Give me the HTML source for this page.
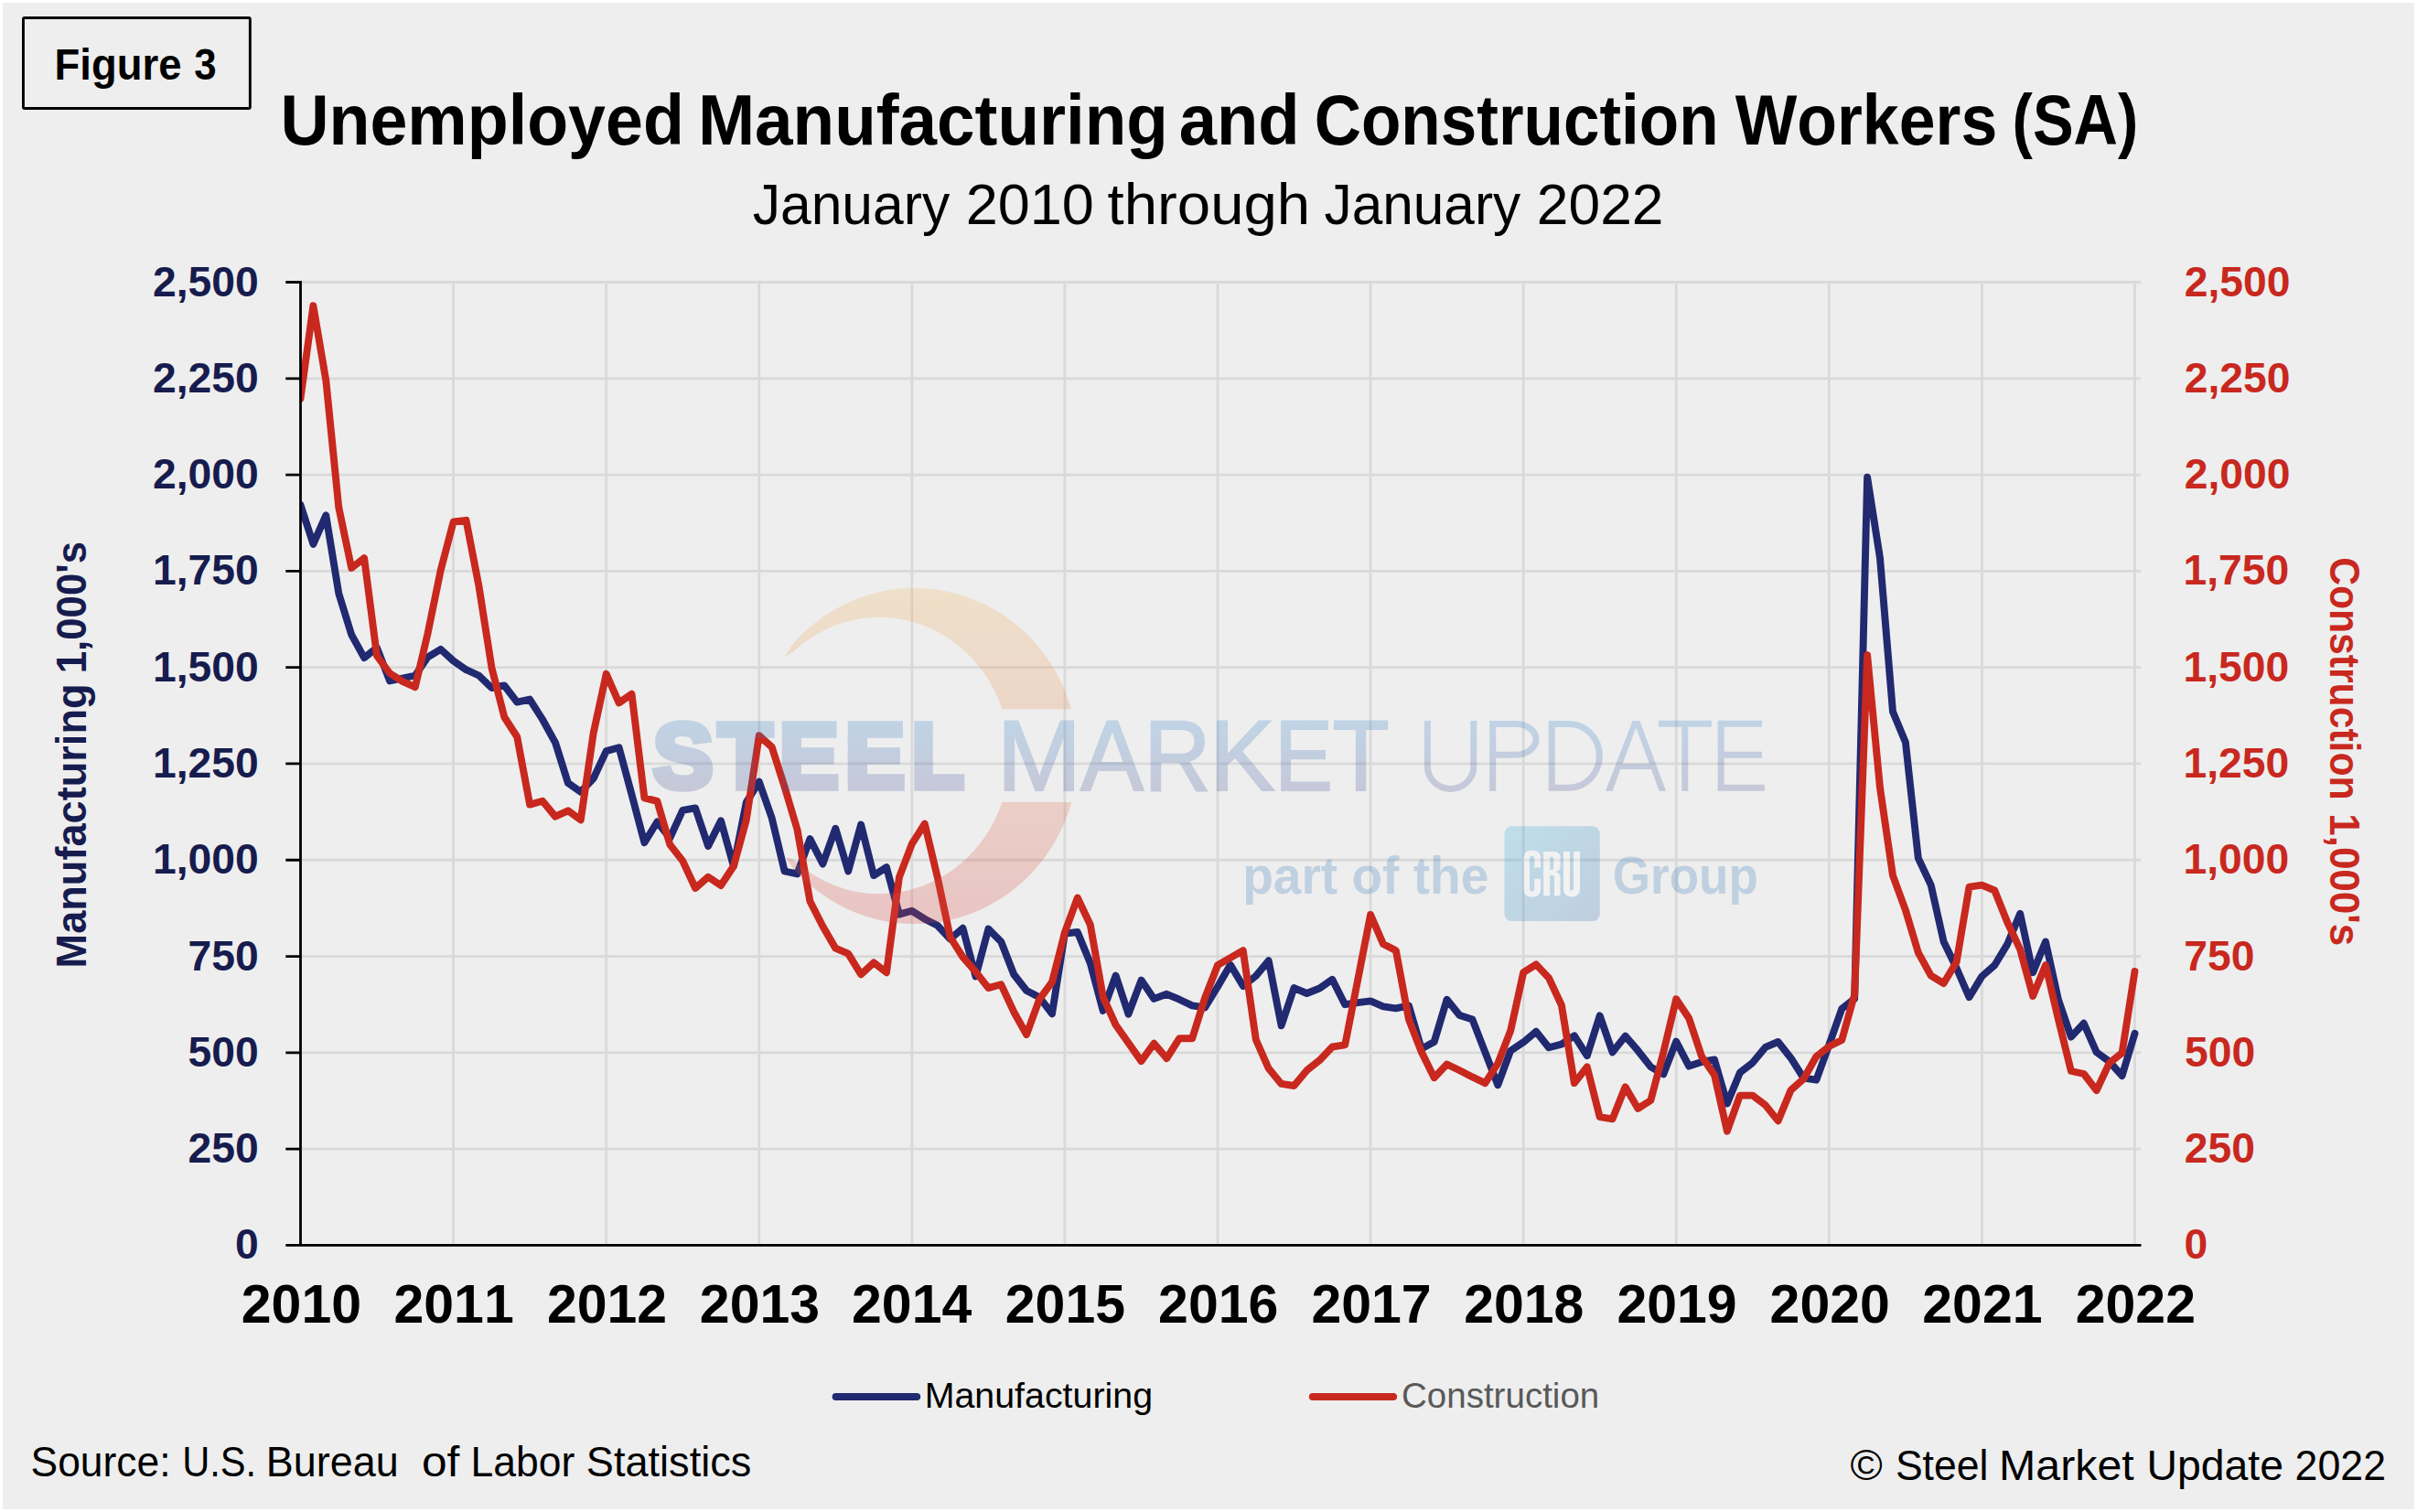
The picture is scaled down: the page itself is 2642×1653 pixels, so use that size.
<!DOCTYPE html>
<html><head><meta charset="utf-8"><title>Unemployed Manufacturing and Construction Workers</title>
<style>
html,body{margin:0;padding:0;background:#fff;overflow:hidden}
svg{display:block}
text{font-family:"Liberation Sans",sans-serif;font-kerning:none;font-variant-ligatures:none;white-space:pre}
.b{font-weight:bold}
</style></head><body>
<svg width="2642" height="1653" viewBox="0 0 2642 1653">
<defs>
<linearGradient id="gTxt" x1="0" y1="786" x2="0" y2="866" gradientUnits="userSpaceOnUse"><stop offset="0" stop-color="#3385C9"/><stop offset="1" stop-color="#4D5598"/></linearGradient>
<linearGradient id="gTxtL" x1="0" y1="-76" x2="0" y2="3" gradientUnits="userSpaceOnUse"><stop offset="0" stop-color="#3385C9"/><stop offset="1" stop-color="#4D5598"/></linearGradient>
<linearGradient id="gCres" x1="0" y1="642" x2="0" y2="1010" gradientUnits="userSpaceOnUse"><stop offset="0" stop-color="#EEB65C"/><stop offset="1" stop-color="#D84646"/></linearGradient>
<linearGradient id="gCru" x1="1645" y1="904" x2="1748" y2="1007" gradientUnits="userSpaceOnUse"><stop offset="0" stop-color="#30ABDF"/><stop offset="1" stop-color="#306FAF"/></linearGradient>
<clipPath id="plot"><rect x="328.5" y="290" width="2020" height="1080"/></clipPath>
<clipPath id="cband"><path d="M700,600H1300V775.2H700Z M700,877H1300V1100H700Z"/></clipPath>
</defs>
<rect x="0" y="0" width="2642" height="1653" fill="#FFFFFF"/>
<rect x="3" y="3" width="2636" height="1647" fill="#EEEEEE"/>
<rect x="25.45" y="19.45" width="247.9" height="99" rx="1.5" fill="none" stroke="#000" stroke-width="2.9"/>
<text class="b" font-size="48.40" fill="#000" transform="matrix(0.93915,0,0,1,59.56,86.60)">Figure</text>
<text class="b" font-size="48.40" fill="#000" transform="matrix(0.90614,0,0,1,212.29,86.60)">3</text>
<text class="b" font-size="77.00" fill="#000" transform="matrix(0.95540,0,0,1,306.38,158.30)">Unemployed</text>
<text class="b" font-size="77.00" fill="#000" transform="matrix(0.96919,0,0,1,762.91,158.30)">Manufacturing</text>
<text class="b" font-size="77.00" fill="#000" transform="matrix(0.96325,0,0,1,1288.73,158.30)">and</text>
<text class="b" font-size="77.00" fill="#000" transform="matrix(0.92245,0,0,1,1436.69,158.30)">Construction</text>
<text class="b" font-size="77.00" fill="#000" transform="matrix(0.93020,0,0,1,1896.63,158.30)">Workers</text>
<text class="b" font-size="77.00" fill="#000" transform="matrix(0.87064,0,0,1,2199.56,158.30)">(SA)</text>
<text font-size="63.00" fill="#000" transform="matrix(0.96179,0,0,1,822.65,245.00)">January</text>
<text font-size="63.00" fill="#000" transform="matrix(0.99910,0,0,1,1055.63,245.00)">2010</text>
<text font-size="63.00" fill="#000" transform="matrix(1.03774,0,0,1,1210.51,245.00)">through</text>
<text font-size="63.00" fill="#000" transform="matrix(0.95820,0,0,1,1447.46,245.00)">January</text>
<text font-size="63.00" fill="#000" transform="matrix(0.98869,0,0,1,1679.87,245.00)">2022</text>
<path d="M328.5,1256.11H2340 M328.5,1150.82H2340 M328.5,1045.53H2340 M328.5,940.24H2340 M328.5,834.95H2340 M328.5,729.66H2340 M328.5,624.37H2340 M328.5,519.08H2340 M328.5,413.79H2340 M328.5,308.50H2340 M495.58,308.5V1361.4 M662.67,308.5V1361.4 M829.75,308.5V1361.4 M996.83,308.5V1361.4 M1163.92,308.5V1361.4 M1331.00,308.5V1361.4 M1498.08,308.5V1361.4 M1665.17,308.5V1361.4 M1832.25,308.5V1361.4 M1999.33,308.5V1361.4 M2166.42,308.5V1361.4 M2333.50,308.5V1361.4" stroke="#D9D9D9" stroke-width="2.8" fill="none"/>
<g clip-path="url(#plot)">
<polyline points="328.5,551.9 342.4,594.9 356.3,563.3 370.3,648.8 384.2,693.9 398.1,719.1 412.0,708.2 426.0,744.4 439.9,741.5 453.8,738.5 467.7,718.3 481.7,709.9 495.6,722.5 509.5,732.2 523.4,738.5 537.4,752.0 551.3,749.5 565.2,767.6 579.1,764.6 593.0,786.5 607.0,811.8 620.9,856.0 634.8,865.7 648.7,851.0 662.7,821.1 676.6,817.3 690.5,868.6 704.4,921.3 718.4,898.5 732.3,916.2 746.2,885.9 760.1,883.4 774.1,925.1 788.0,897.3 801.9,947.0 815.8,877.1 829.8,854.7 843.7,894.3 857.6,952.5 871.5,955.4 885.4,917.1 899.4,944.5 913.3,905.7 927.2,952.5 941.1,901.5 955.1,957.1 969.0,948.2 982.9,999.6 996.8,995.8 1010.8,1004.7 1024.7,1011.8 1038.6,1026.6 1052.5,1014.8 1066.5,1067.4 1080.4,1015.6 1094.3,1029.5 1108.2,1065.3 1122.1,1083.0 1136.1,1090.2 1150.0,1108.3 1163.9,1020.7 1177.8,1019.0 1191.8,1053.1 1205.7,1104.9 1219.6,1066.6 1233.5,1108.7 1247.5,1071.6 1261.4,1091.9 1275.3,1086.8 1289.2,1092.7 1303.2,1099.4 1317.1,1101.5 1331.0,1078.8 1344.9,1054.8 1358.8,1078.0 1372.8,1067.0 1386.7,1050.2 1400.6,1121.3 1414.5,1080.1 1428.5,1086.0 1442.4,1080.5 1456.3,1070.8 1470.2,1098.2 1484.2,1096.1 1498.1,1094.4 1512.0,1100.3 1525.9,1102.4 1539.9,1099.4 1553.8,1146.6 1567.7,1139.0 1581.6,1092.7 1595.5,1110.0 1609.5,1114.6 1623.4,1150.4 1637.3,1186.2 1651.2,1148.7 1665.2,1139.4 1679.1,1127.7 1693.0,1145.3 1706.9,1141.6 1720.9,1132.3 1734.8,1154.2 1748.7,1110.4 1762.6,1150.4 1776.6,1132.7 1790.5,1148.7 1804.4,1166.4 1818.3,1174.4 1832.2,1138.6 1846.2,1165.6 1860.1,1160.9 1874.0,1158.4 1887.9,1206.4 1901.9,1172.7 1915.8,1161.8 1929.7,1144.9 1943.6,1139.0 1957.6,1156.7 1971.5,1178.6 1985.4,1180.7 1999.3,1142.4 2013.3,1102.8 2027.2,1091.9 2041.1,521.6 2055.0,610.1 2069.0,778.1 2082.9,811.4 2096.8,938.1 2110.7,967.6 2124.6,1029.5 2138.6,1058.2 2152.5,1090.2 2166.4,1067.4 2180.3,1055.2 2194.3,1032.1 2208.2,998.8 2222.1,1063.2 2236.0,1029.5 2250.0,1093.1 2263.9,1133.6 2277.8,1118.8 2291.7,1150.4 2305.7,1160.5 2319.6,1176.1 2333.5,1129.8" fill="none" stroke="#212970" stroke-width="7.9" stroke-linejoin="round" stroke-linecap="round"/>
<polyline points="328.5,435.7 342.4,334.2 356.3,415.9 370.3,554.9 384.2,621.0 398.1,610.1 412.0,717.0 426.0,736.0 439.9,744.8 453.8,751.1 467.7,691.8 481.7,623.5 495.6,570.5 509.5,568.8 523.4,640.4 537.4,729.7 551.3,784.0 565.2,805.5 579.1,879.6 593.0,875.8 607.0,892.6 620.9,886.3 634.8,896.4 648.7,801.3 662.7,736.8 676.6,768.4 690.5,758.7 704.4,872.4 718.4,875.8 732.3,923.4 746.2,941.1 760.1,971.0 774.1,958.8 788.0,968.0 801.9,947.0 815.8,896.4 829.8,804.2 843.7,816.8 857.6,860.2 871.5,907.0 885.4,985.3 899.4,1012.7 913.3,1036.7 927.2,1042.6 941.1,1065.3 955.1,1052.3 969.0,1063.2 982.9,959.2 996.8,922.6 1010.8,900.7 1024.7,958.8 1038.6,1024.5 1052.5,1046.4 1066.5,1062.4 1080.4,1080.1 1094.3,1076.3 1108.2,1106.2 1122.1,1131.0 1136.1,1092.7 1150.0,1073.7 1163.9,1019.4 1177.8,981.5 1191.8,1011.0 1205.7,1089.8 1219.6,1120.5 1233.5,1140.3 1247.5,1160.1 1261.4,1140.7 1275.3,1157.1 1289.2,1135.2 1303.2,1135.2 1317.1,1091.0 1331.0,1055.2 1344.9,1047.2 1358.8,1039.2 1372.8,1136.5 1386.7,1168.1 1400.6,1184.9 1414.5,1187.0 1428.5,1170.2 1442.4,1159.2 1456.3,1144.5 1470.2,1142.4 1484.2,1071.2 1498.1,1000.0 1512.0,1032.1 1525.9,1039.2 1539.9,1114.2 1553.8,1150.0 1567.7,1178.2 1581.6,1163.5 1595.5,1170.2 1609.5,1177.4 1623.4,1184.1 1637.3,1162.6 1651.2,1126.8 1665.2,1063.2 1679.1,1054.4 1693.0,1069.1 1706.9,1099.0 1720.9,1184.1 1734.8,1166.4 1748.7,1221.2 1762.6,1223.3 1776.6,1188.3 1790.5,1211.9 1804.4,1203.0 1818.3,1150.4 1832.2,1092.3 1846.2,1113.3 1860.1,1155.0 1874.0,1175.2 1887.9,1236.7 1901.9,1197.6 1915.8,1197.6 1929.7,1208.1 1943.6,1225.4 1957.6,1191.7 1971.5,1179.5 1985.4,1155.0 1999.3,1144.1 2013.3,1136.9 2027.2,1087.2 2041.1,716.2 2055.0,861.1 2069.0,957.1 2082.9,995.0 2096.8,1041.3 2110.7,1066.6 2124.6,1075.0 2138.6,1051.8 2152.5,969.7 2166.4,967.6 2180.3,973.5 2194.3,1008.5 2208.2,1037.9 2222.1,1088.9 2236.0,1055.2 2250.0,1114.6 2263.9,1171.0 2277.8,1174.0 2291.7,1192.1 2305.7,1162.2 2319.6,1151.2 2333.5,1062.0" fill="none" stroke="#C8281E" stroke-width="7.9" stroke-linejoin="round" stroke-linecap="round"/>
</g>
<path d="M328.5,307.1V1362.8 M312.3,1361.4H2340.5 M312.3,1361.40H328.5 M312.3,1256.11H328.5 M312.3,1150.82H328.5 M312.3,1045.53H328.5 M312.3,940.24H328.5 M312.3,834.95H328.5 M312.3,729.66H328.5 M312.3,624.37H328.5 M312.3,519.08H328.5 M312.3,413.79H328.5 M312.3,308.50H328.5" stroke="#000" stroke-width="2.8" fill="none"/>
<text class="b" font-size="46.30" fill="#171C4E" transform="matrix(1.00000,0,0,1,257.05,1376.40)">0</text>
<text class="b" font-size="46.30" fill="#C8281E" transform="matrix(1.00000,0,0,1,2387.47,1376.40)">0</text>
<text class="b" font-size="46.30" fill="#171C4E" transform="matrix(1.00000,0,0,1,205.55,1271.11)">250</text>
<text class="b" font-size="46.30" fill="#C8281E" transform="matrix(1.00000,0,0,1,2387.69,1271.11)">250</text>
<text class="b" font-size="46.30" fill="#171C4E" transform="matrix(1.00000,0,0,1,205.55,1165.82)">500</text>
<text class="b" font-size="46.30" fill="#C8281E" transform="matrix(1.00000,0,0,1,2387.88,1165.82)">500</text>
<text class="b" font-size="46.30" fill="#171C4E" transform="matrix(1.00000,0,0,1,205.55,1060.53)">750</text>
<text class="b" font-size="46.30" fill="#C8281E" transform="matrix(1.00000,0,0,1,2387.31,1060.53)">750</text>
<text class="b" font-size="46.30" fill="#171C4E" transform="matrix(1.00000,0,0,1,166.94,955.24)">1,000</text>
<text class="b" font-size="46.30" fill="#C8281E" transform="matrix(1.00000,0,0,1,2386.38,955.24)">1,000</text>
<text class="b" font-size="46.30" fill="#171C4E" transform="matrix(1.00000,0,0,1,166.94,849.95)">1,250</text>
<text class="b" font-size="46.30" fill="#C8281E" transform="matrix(1.00000,0,0,1,2386.38,849.95)">1,250</text>
<text class="b" font-size="46.30" fill="#171C4E" transform="matrix(1.00000,0,0,1,166.94,744.66)">1,500</text>
<text class="b" font-size="46.30" fill="#C8281E" transform="matrix(1.00000,0,0,1,2386.38,744.66)">1,500</text>
<text class="b" font-size="46.30" fill="#171C4E" transform="matrix(1.00000,0,0,1,166.94,639.37)">1,750</text>
<text class="b" font-size="46.30" fill="#C8281E" transform="matrix(1.00000,0,0,1,2386.38,639.37)">1,750</text>
<text class="b" font-size="46.30" fill="#171C4E" transform="matrix(1.00000,0,0,1,166.94,534.08)">2,000</text>
<text class="b" font-size="46.30" fill="#C8281E" transform="matrix(1.00000,0,0,1,2387.69,534.08)">2,000</text>
<text class="b" font-size="46.30" fill="#171C4E" transform="matrix(1.00000,0,0,1,166.94,428.79)">2,250</text>
<text class="b" font-size="46.30" fill="#C8281E" transform="matrix(1.00000,0,0,1,2387.69,428.79)">2,250</text>
<text class="b" font-size="46.30" fill="#171C4E" transform="matrix(1.00000,0,0,1,166.94,323.50)">2,500</text>
<text class="b" font-size="46.30" fill="#C8281E" transform="matrix(1.00000,0,0,1,2387.69,323.50)">2,500</text>
<text class="b" font-size="59.00" fill="#000" transform="matrix(1.00000,0,0,1,263.76,1445.80)">2010</text>
<text class="b" font-size="59.00" fill="#000" transform="matrix(1.00000,0,0,1,430.46,1445.80)">2011</text>
<text class="b" font-size="59.00" fill="#000" transform="matrix(1.00000,0,0,1,597.90,1445.80)">2012</text>
<text class="b" font-size="59.00" fill="#000" transform="matrix(1.00000,0,0,1,764.87,1445.80)">2013</text>
<text class="b" font-size="59.00" fill="#000" transform="matrix(1.00000,0,0,1,931.04,1445.80)">2014</text>
<text class="b" font-size="59.00" fill="#000" transform="matrix(1.00000,0,0,1,1098.79,1445.80)">2015</text>
<text class="b" font-size="59.00" fill="#000" transform="matrix(1.00000,0,0,1,1266.12,1445.80)">2016</text>
<text class="b" font-size="59.00" fill="#000" transform="matrix(1.00000,0,0,1,1433.43,1445.80)">2017</text>
<text class="b" font-size="59.00" fill="#000" transform="matrix(1.00000,0,0,1,1600.13,1445.80)">2018</text>
<text class="b" font-size="59.00" fill="#000" transform="matrix(1.00000,0,0,1,1767.40,1445.80)">2019</text>
<text class="b" font-size="59.00" fill="#000" transform="matrix(1.00000,0,0,1,1934.59,1445.80)">2020</text>
<text class="b" font-size="59.00" fill="#000" transform="matrix(1.00000,0,0,1,2101.29,1445.80)">2021</text>
<text class="b" font-size="59.00" fill="#000" transform="matrix(1.00000,0,0,1,2268.73,1445.80)">2022</text>
<text class="b" font-size="47.00" fill="#171C4E" transform="translate(94.4,1055.4) rotate(-90) matrix(0.96069,0,0,1,-3.02,0.00)">Manufacturing</text>
<text class="b" font-size="47.00" fill="#171C4E" transform="translate(94.4,1055.4) rotate(-90) matrix(0.93307,0,0,1,319.04,0.00)">1,000&#x27;s</text>
<text class="b" font-size="47.00" fill="#C8281E" transform="translate(2547.3,610.9) rotate(90) matrix(0.90793,0,0,1,-1.75,0.00)">Construction</text>
<text class="b" font-size="47.00" fill="#C8281E" transform="translate(2547.3,610.9) rotate(90) matrix(0.93574,0,0,1,278.33,0.00)">1,000&#x27;s</text>
<path d="M913.6,1527H1002.2" stroke="#212970" stroke-width="8" stroke-linecap="round"/>
<path d="M1434.8,1527H1523.1" stroke="#C8281E" stroke-width="8" stroke-linecap="round"/>
<text font-size="38.40" fill="#000" transform="matrix(1.02519,0,0,1,1010.67,1539.20)">Manufacturing</text>
<text font-size="38.40" fill="#595959" transform="matrix(1.00367,0,0,1,1531.94,1539.20)">Construction</text>
<text font-size="45.50" fill="#000" transform="matrix(0.97553,0,0,1,33.58,1613.90)">Source:</text>
<text font-size="45.50" fill="#000" transform="matrix(0.91432,0,0,1,199.19,1613.90)">U.S.</text>
<text font-size="45.50" fill="#000" transform="matrix(0.98738,0,0,1,290.81,1613.90)">Bureau</text>
<text font-size="45.50" fill="#000" transform="matrix(1.09134,0,0,1,461.01,1613.90)">of</text>
<text font-size="45.50" fill="#000" transform="matrix(0.97780,0,0,1,514.55,1613.90)">Labor</text>
<text font-size="45.50" fill="#000" transform="matrix(0.99140,0,0,1,640.85,1613.90)">Statistics</text>
<text font-size="46.50" fill="#000" transform="matrix(1.02950,0,0,1,2022.48,1617.50)">©</text>
<text font-size="46.50" fill="#000" transform="matrix(0.95866,0,0,1,2071.88,1617.50)">Steel</text>
<text font-size="46.50" fill="#000" transform="matrix(1.03946,0,0,1,2185.04,1617.50)">Market</text>
<text font-size="46.50" fill="#000" transform="matrix(0.99798,0,0,1,2346.42,1617.50)">Update</text>
<text font-size="46.50" fill="#000" transform="matrix(0.96186,0,0,1,2508.55,1617.50)">2022</text>
<g opacity="0.25">
<path clip-path="url(#cband)" fill="url(#gCres)" d="M858,717.7 L866,705.0 A178.4,183.6 0 1,1 866,948.0 L859.4,937.8 L866,938.7 A142.7,151.2 0 1,0 866,713.3 Z"/>
<text class="b" font-size="100.44" fill="url(#gTxtL)" transform="matrix(0.98412,0,0,1,713.69,861.00)" stroke="url(#gTxtL)" stroke-width="7.40" stroke-linejoin="miter">S</text>
<text class="b" font-size="100.44" fill="url(#gTxtL)" transform="matrix(0.95877,0,0,1,785.17,861.00)" stroke="url(#gTxtL)" stroke-width="7.40" stroke-linejoin="miter">T</text>
<text class="b" font-size="100.44" fill="url(#gTxtL)" transform="matrix(0.96944,0,0,1,851.77,861.00)" stroke="url(#gTxtL)" stroke-width="7.40" stroke-linejoin="miter">E</text>
<text class="b" font-size="100.44" fill="url(#gTxtL)" transform="matrix(0.97415,0,0,1,923.76,861.00)" stroke="url(#gTxtL)" stroke-width="7.40" stroke-linejoin="miter">E</text>
<text class="b" font-size="100.44" fill="url(#gTxtL)" transform="matrix(0.93312,0,0,1,996.38,861.00)" stroke="url(#gTxtL)" stroke-width="7.40" stroke-linejoin="miter">L</text>
<text font-size="108.58" fill="url(#gTxtL)" transform="matrix(1.01963,0,0,1,1089.74,863.90)" stroke="url(#gTxtL)" stroke-width="2.20" stroke-linejoin="miter">M</text>
<text font-size="108.58" fill="url(#gTxtL)" transform="matrix(0.94885,0,0,1,1181.34,863.90)" stroke="url(#gTxtL)" stroke-width="2.20" stroke-linejoin="miter">A</text>
<text font-size="108.58" fill="url(#gTxtL)" transform="matrix(0.93000,0,0,1,1250.54,863.90)" stroke="url(#gTxtL)" stroke-width="2.20" stroke-linejoin="miter">R</text>
<text font-size="108.58" fill="url(#gTxtL)" transform="matrix(0.98305,0,0,1,1322.23,863.90)" stroke="url(#gTxtL)" stroke-width="2.20" stroke-linejoin="miter">K</text>
<text font-size="108.58" fill="url(#gTxtL)" transform="matrix(0.87965,0,0,1,1393.33,863.90)" stroke="url(#gTxtL)" stroke-width="2.20" stroke-linejoin="miter">E</text>
<text font-size="108.58" fill="url(#gTxtL)" transform="matrix(0.93094,0,0,1,1456.75,863.90)" stroke="url(#gTxtL)" stroke-width="2.20" stroke-linejoin="miter">T</text>
<path d="M1560.4,787.9V838A25.2,24.4 0 0 0 1610.8,838V787.9 M1631.7,864.7V791.4H1657A22,16.9 0 0 1 1657,825.2H1631.7 M1696.3,791.4H1715A33.4,34.9 0 0 1 1715,861.2H1696.3Z M1812.9,791.3H1870.9M1841.8,791.3V864.7 M1926,791.3H1881.2V861.3H1928.8M1881.2,825.2H1925.8" fill="none" stroke="url(#gTxt)" stroke-width="7" stroke-linejoin="miter"/>
<path fill="url(#gTxt)" fill-rule="evenodd" d="M1755,864.7L1784.6,787.9H1792.4L1821,864.7H1813.6L1805,841H1771.4L1762.5,864.7Z M1773.5,835.2L1788.4,795.5L1802.9,835.2Z"/>
<text class="b" font-size="56.50" fill="#3077BA" transform="matrix(0.97467,0,0,1,1358.17,977.40)">part of the</text>
<text class="b" font-size="56.50" fill="#3077BA" transform="matrix(0.93850,0,0,1,1762.83,977.40)">Group</text>
<rect x="1644.5" y="903.3" width="104.3" height="103.7" rx="8" fill="url(#gCru)"/>
<path d="M1673,929.8H1676.5A7.5,7.5 0 0 1 1684,937.3V948.6H1677.3V938.5A2.6,2.6 0 0 0 1672,938.5V971.7A2.6,2.6 0 0 0 1677.3,971.7V960.8H1684V972.9A7.5,7.5 0 0 1 1676.5,980.4H1673A7.5,7.5 0 0 1 1665.5,972.9V937.3A7.5,7.5 0 0 1 1673,929.8Z M1687.2,930.9H1699A6.5,6.5 0 0 1 1705.5,937.4V946.5A6,6 0 0 1 1700,953.3A5.5,5.5 0 0 1 1705.5,958.8V979.2H1699V959.5A2.8,2.8 0 0 0 1696.2,956.7H1694.2V979.2H1687.2Z M1694.2,936.8V951H1696A2.2,2.2 0 0 0 1698.2,948.8V939A2.2,2.2 0 0 0 1696,936.8Z M1709,930.9H1716V971.5A2,2 0 0 0 1720,971.5V930.9H1727V972.4A8,8 0 0 1 1719,980.4H1717A8,8 0 0 1 1709,972.4Z" fill="#FFFFFF" fill-rule="evenodd"/>
</g>
</svg>
</body></html>
